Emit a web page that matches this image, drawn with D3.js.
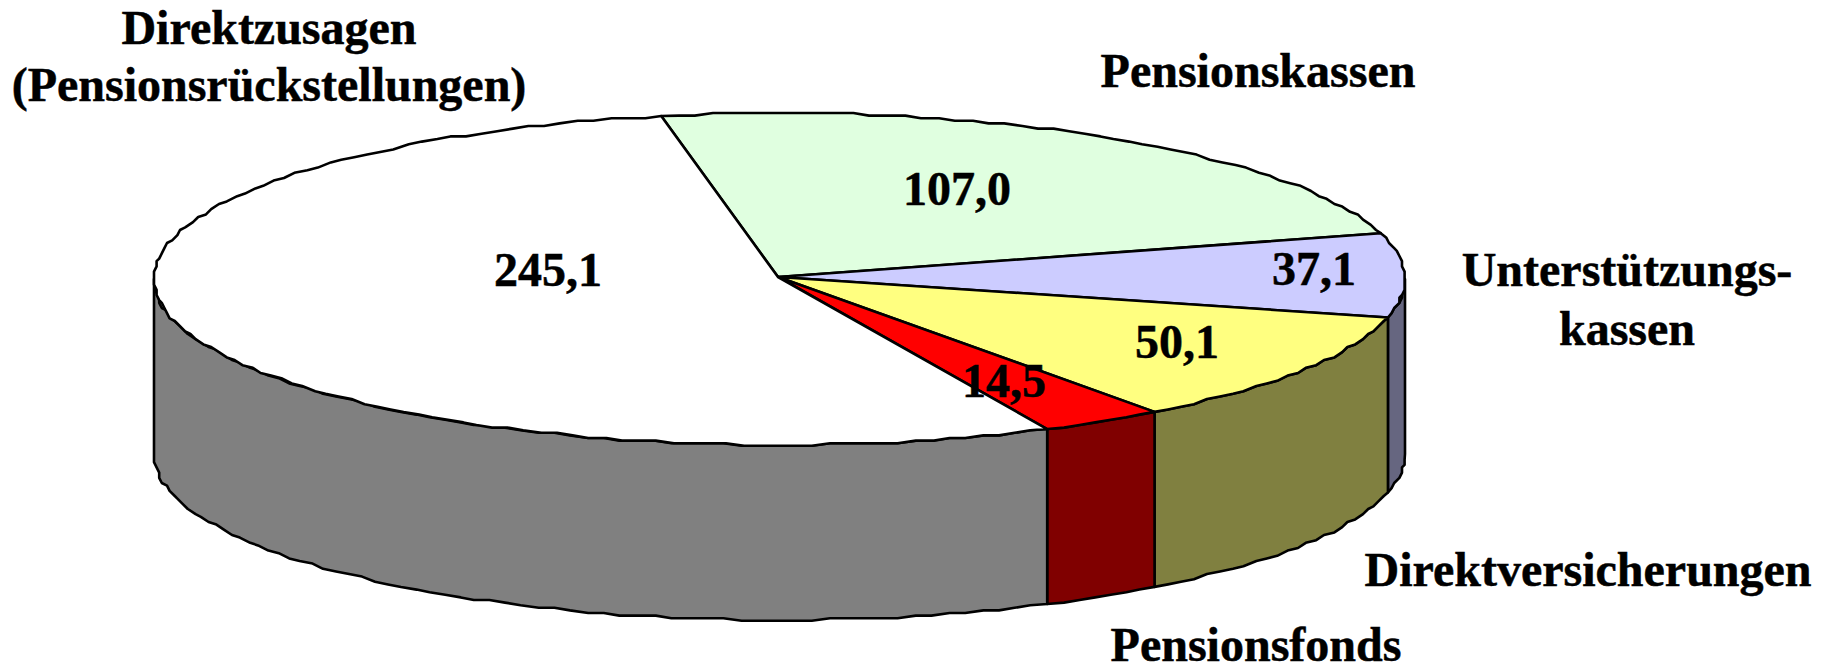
<!DOCTYPE html>
<html>
<head>
<meta charset="utf-8">
<script src="https://cdn.jsdelivr.net/npm/d3@7"></script>
<style>
	html, body { margin: 0; padding: 0; background: #fff; overflow: hidden; }
	text { font-family: "Liberation Serif", serif; font-weight: bold; font-size: 48px; fill: #000; stroke: #000; stroke-width: 0.5px; text-anchor: middle; }
</style>
</head>
<body>
<div id="dataviz"></div>
<script>
// dati
var categories = ["Pensionskassen", "Unterstützungskassen", "Direktversicherungen", "Pensionsfonds", "Direktzusagen"];
var values = [107.0, 37.1, 50.1, 14.5, 245.1];
var value_labels = ["107,0", "37,1", "50,1", "14,5", "245,1"];
var top_colors = ["#E0FFE0", "#CCCCFF", "#FFFF80", "#FF0000", "#FFFFFF"];
var side_colors = ["#708070", "#666680", "#808040", "#800000", "#808080"];

var width = 1828;
var height = 664;

// geometria della torta
var cx = 779.5;
var cy = 279;
var rx = 625.5;
var ry = 166;
var depth = 175;
var start_angle = -10.9 * Math.PI / 180;

// posizioni delle etichette
var value_pos = [[957, 205], [1314, 285], [1177, 358], [1004, 397], [548, 286]];
var name_labels = [
	{lines: ["Direktzusagen", "(Pensionsrückstellungen)"], x: 269, y: [44, 101]},
	{lines: ["Pensionskassen"], x: 1258, y: [87]},
	{lines: ["Unterstützungs-", "kassen"], x: 1627, y: [286, 345]},
	{lines: ["Direktversicherungen"], x: 1588, y: [586]},
	{lines: ["Pensionsfonds"], x: 1256, y: [661]}
];

var svg = d3.select("#dataviz").append("svg")
	.attr("width", width)
	.attr("height", height)
	.style("display", "block");

var pie = d3.pie()
	.sort(null)
	.startAngle(start_angle)
	.endAngle(start_angle + 2 * Math.PI);

var slices = pie(values);

// il bordo originale è a gradini, arrotondo i punti su una griglia
function snap(v, base) {
	return base + Math.round((v - base) / 2.6) * 2.6;
}

function edge_x(a) {
	return cx + rx * Math.sin(a);
}

function edge_y(a) {
	return cy - ry * Math.cos(a);
}

function arc_points(a0, a1, dy) {
	var step = 1.6 * Math.PI / 180;
	var n = Math.max(1, Math.round((a1 - a0) / step));
	return d3.range(n + 1).map(function(i) {
		var a = a0 + (a1 - a0) * i / n;
		var on_end = (i == 0 || i == n);
		return [
			on_end ? edge_x(a) : snap(edge_x(a), cx - rx),
			(on_end ? edge_y(a) : snap(edge_y(a), cy - ry)) + dy
		];
	});
}

var line = d3.line();

// fianchi visibili: solo la parte davanti, tra 90 e 270 gradi
var side_from = Math.PI / 2;
var side_to = 3 * Math.PI / 2;

svg.append("g").selectAll("path")
	.data(slices.filter(function(d) {
		return d.endAngle > side_from && d.startAngle < side_to;
	}))
	.enter()
	.append("path")
	.attr("d", function(d) {
		var a0 = Math.max(d.startAngle, side_from);
		var a1 = Math.min(d.endAngle, side_to);
		var upper = arc_points(a0, a1, 0);
		var lower = arc_points(a0, a1, depth).reverse();
		return line(upper.concat(lower)) + "Z";
	})
	.attr("fill", function(d) { return side_colors[d.index]; })
	.attr("stroke", "#000")
	.attr("stroke-width", 2.6)
	.attr("stroke-linejoin", "round");

// faccia superiore
svg.append("g").selectAll("path")
	.data(slices)
	.enter()
	.append("path")
	.attr("d", function(d) {
		return line([[cx - 1.5, cy - 2]].concat(arc_points(d.startAngle, d.endAngle, 0))) + "Z";
	})
	.attr("fill", function(d) { return top_colors[d.index]; })
	.attr("stroke", "#000")
	.attr("stroke-width", 2.6)
	.attr("stroke-linejoin", "round");

// valori
svg.append("g").selectAll("text")
	.data(value_labels)
	.enter()
	.append("text")
	.attr("x", function(d, i) { return value_pos[i][0]; })
	.attr("y", function(d, i) { return value_pos[i][1]; })
	.text(function(d) { return d; });

// nomi delle categorie
name_labels.forEach(function(l) {
	l.lines.forEach(function(t, i) {
		svg.append("text")
			.attr("x", l.x)
			.attr("y", l.y[i])
			.text(t);
	});
});
</script>
</body>
</html>
